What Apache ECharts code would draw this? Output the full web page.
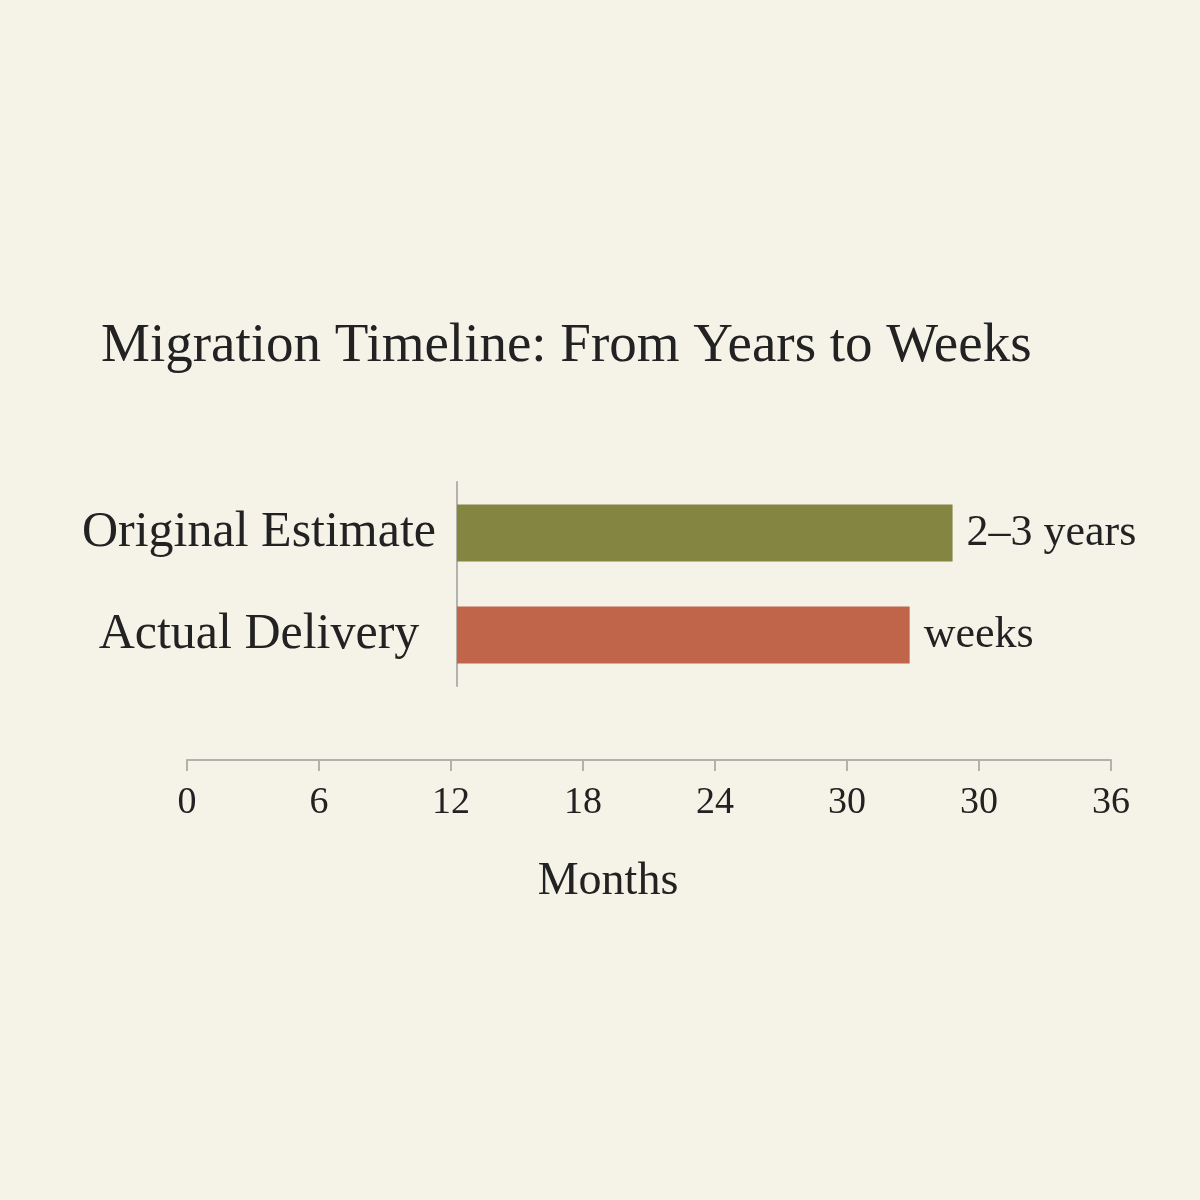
<!DOCTYPE html>
<html>
<head>
<meta charset="utf-8">
<title>Migration Timeline</title>
<script src="https://cdn.jsdelivr.net/npm/echarts@6/dist/echarts.min.js"></script>
<style>
  html, body { margin: 0; padding: 0; background: #f5f2e8; }
  #chart { width: 1200px; height: 1200px; }
</style>
</head>
<body>
<div id="chart"></div>
<script>
// data
const categories = ['Original Estimate', 'Actual Delivery'];
const months = [34.8, 32.85];
const barLabels = ['2–3 years', 'weeks'];
const barColors = ['#838540', '#c0654a'];
const tickLabels = ['0', '6', '12', '18', '24', '30', '30', '36'];

const font = '"Liberation Serif", "DejaVu Serif", serif';
const ink = '#222222';
const axisGrey = '#b3b1ab';

const chart = echarts.init(document.getElementById('chart'));

const option = {
  backgroundColor: '#f5f2e8',
  animation: false,
  title: {
    text: 'Migration Timeline: From Years to Weeks',
    left: 96,
    top: 314,
    textStyle: { fontFamily: font, fontSize: 55, fontWeight: 'normal', color: ink }
  },
  grid: [
    // bars
    { left: 457, right: 89, top: 482, height: 204 },
    // months axis
    { left: 187, right: 89, top: 700, height: 60 }
  ],
  xAxis: [
    {
      gridIndex: 0, type: 'value', min: 12.28, max: 42,
      show: false
    },
    {
      gridIndex: 1, type: 'value', min: 0, max: 42, interval: 6,
      axisLine: { show: true, lineStyle: { color: axisGrey, width: 2 } },
      axisTick: { show: true, length: 11, lineStyle: { color: axisGrey, width: 2 } },
      splitLine: { show: false },
      axisLabel: {
        margin: 24,
        fontFamily: font, fontSize: 38, color: ink,
        formatter: v => tickLabels[Math.round(v / 6)]
      }
    }
  ],
  yAxis: [
    {
      gridIndex: 0, type: 'category', data: categories, inverse: true,
      axisLine: { show: true, lineStyle: { color: axisGrey, width: 2 } },
      axisTick: { show: false },
      axisLabel: {
        margin: 198, align: 'center',
        fontFamily: font, fontSize: 50, color: ink
      }
    },
    { gridIndex: 1, type: 'value', show: false }
  ],
  series: [
    {
      type: 'bar',
      xAxisIndex: 0, yAxisIndex: 0,
      barWidth: 57,
      data: months.map((m, i) => ({ value: m, itemStyle: { color: barColors[i] } })),
      label: {
        show: true, position: 'right', distance: 14,
        fontFamily: font, fontSize: 44, color: ink,
        formatter: p => barLabels[p.dataIndex]
      }
    }
  ],
  graphic: [
    {
      type: 'text',
      style: {
        text: 'Months', x: 608, y: 882,
        fontFamily: font, fontSize: 46, fill: ink,
        textAlign: 'center', textVerticalAlign: 'middle'
      }
    }
  ]
};

chart.setOption(option);
</script>
</body>
</html>
